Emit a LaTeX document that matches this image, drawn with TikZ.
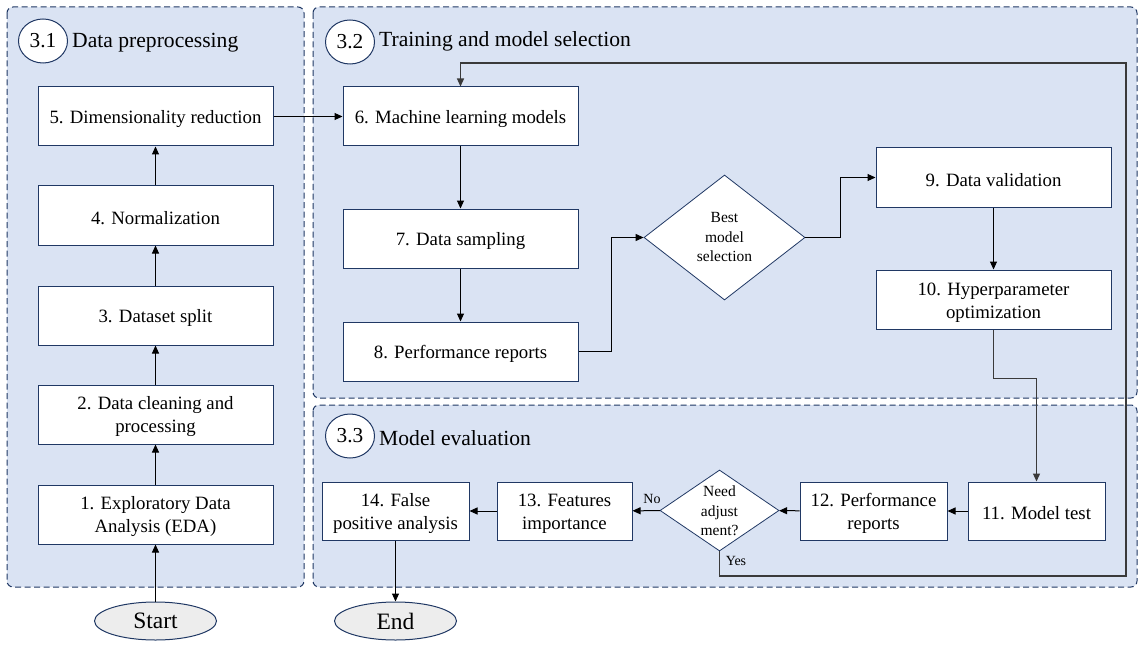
\documentclass[tikz,border=0pt]{standalone}
\usepackage{fontspec}
\setmainfont{Liberation Serif}
\usetikzlibrary{arrows.meta,shapes.geometric,calc}
\definecolor{secfill}{HTML}{DAE3F3}
\definecolor{navy}{HTML}{203864}
\definecolor{termfill}{HTML}{EDEDED}
\definecolor{loopgray}{HTML}{3A3A3A}
\newcommand{\tstrut}{\rule{0pt}{18pt}}
\begin{document}
\begin{tikzpicture}[x=1pt,y=-1pt,
  section/.style={draw=navy, fill=secfill, dash pattern=on 6pt off 3.5pt, line width=1pt, rounded corners=6pt},
  numcircle/.style={ellipse, draw=navy, fill=white, line width=1pt, minimum width=49pt, minimum height=44pt, inner sep=0pt, font=\fontsize{21.3}{24}\selectfont},
  sectitle/.style={anchor=west, inner sep=0pt, font=\fontsize{21.6}{25}\selectfont},
  procbox/.style={draw=navy, fill=white, line width=1pt, minimum width=235pt, minimum height=59pt, align=center, inner sep=2pt, font=\fontsize{18.8}{23}\selectfont},
  decision/.style={diamond, draw=navy, fill=white, line width=0.8pt, inner sep=0pt},
  dtext/.style={align=center, inner sep=0pt, font=\fontsize{15.5}{19.5}\selectfont},
  terminal/.style={ellipse, draw=navy, fill=termfill, line width=1pt, minimum width=122pt, minimum height=38pt, inner sep=0pt, font=\fontsize{23.5}{26}\selectfont},
  conn/.style={draw=black, line width=1pt, -{Triangle[length=8pt,width=7pt]}},
  loopconn/.style={conn, draw=loopgray, line width=1.3pt},
  lbl/.style={font=\fontsize{14}{16}\selectfont, inner sep=1pt}
]
\useasboundingbox (0,0) rectangle (1142,647);
% sections
\path[section] (7,7) rectangle (304,587);
\path[section] (313,7) rectangle (1137,398);
\path[section] (313,405) rectangle (1137,587);
% section headers
\node[numcircle] (c31) at (43,41) {3.1};
\node[sectitle] (t31) at (72,43) {Data preprocessing};
\node[numcircle] (c32) at (350,42) {3.2};
\node[sectitle] (t32) at (379,41) {Training and model selection};
\node[numcircle] (c33) at (350,436) {3.3};
\node[sectitle] (t33) at (379,438) {Model evaluation};
% column 3.1
\node[procbox] (n5) at (155.5,116.5) {\tstrut 5. Dimensionality reduction};
\node[procbox] (n4) at (155.5,215.5) {\tstrut 4. Normalization};
\node[procbox] (n3) at (155.5,315.5) {\tstrut 3. Dataset split};
\node[procbox] (n2) at (155.5,414.5) {\tstrut 2. Data cleaning and\\processing};
\node[procbox] (n1) at (155.5,514.5) {\tstrut 1. Exploratory Data\\Analysis (EDA)};
\node[terminal] (start) at (155.5,621) {Start};
% section 3.2
\node[procbox] (n6) at (460.5,116.5) {\tstrut 6. Machine learning models};
\node[procbox] (n7) at (460.5,238.5) {\tstrut 7. Data sampling};
\node[procbox] (n8) at (460.5,351.5) {\tstrut 8. Performance reports};
\node[decision, minimum width=161pt, minimum height=125pt] (d1) at (724.5,237.5) {};
\node[dtext] (d1t) at (724.5,237.5) {Best\\model\\selection};
\node[procbox] (n9) at (993.5,177.5) {\tstrut 9. Data validation};
\node[procbox] (n10) at (993.5,299.5) {\tstrut 10. Hyperparameter\\optimization};
% section 3.3
\node[procbox, minimum width=137pt, minimum height=58pt] (n11) at (1036.5,511) {\tstrut 11. Model test};
\node[procbox, minimum width=147pt, minimum height=58pt] (n12) at (873.5,511) {\tstrut 12. Performance\\reports};
\node[decision, minimum width=119pt, minimum height=81pt] (d2) at (719.5,510.5) {};
\node[dtext] (d2t) at (719.5,511) {Need\\adjust\\ment?};
\node[procbox, minimum width=135pt, minimum height=58pt] (n13) at (564.5,511) {\tstrut 13. Features\\importance};
\node[procbox, minimum width=147pt, minimum height=58pt] (n14) at (395.5,511) {\tstrut 14. False\\positive analysis};
\node[terminal] (end) at (395.5,621) {End};
% connectors 3.1
\draw[conn] (start) -- (n1);
\draw[conn] (n1) -- (n2);
\draw[conn] (n2) -- (n3);
\draw[conn] (n3) -- (n4);
\draw[conn] (n4) -- (n5);
\draw[conn] (n5) -- (n6);
% connectors 3.2
\draw[conn] (n6) -- (n7);
\draw[conn] (n7) -- (n8);
\draw[conn] (n8.east) -- ++(33,0) |- (d1.west);
\draw[conn] (d1.east) -- ++(35,0) |- (n9.west);
\draw[conn] (n9) -- (n10);
\draw[loopconn] (n10.south) -- ++(0,49) -| (n11.north);
% connectors 3.3
\draw[conn] (n11) -- (n12);
\draw[conn] (n12) -- (d2);
\draw[conn] (d2) -- (n13);
\node[lbl] (no) at (652,499) {No};
\draw[conn] (n13) -- (n14);
\draw[conn] (n14) -- (end);
% feedback loop
\coordinate (loopBR) at (1126,576);
\coordinate (loopTR) at (1126,63);
\draw[loopconn] (d2.south) |- (loopBR) -- (loopTR) -| (n6.north);
\node[lbl] (yes) at (736,561) {Yes};
\end{tikzpicture}
\end{document}
